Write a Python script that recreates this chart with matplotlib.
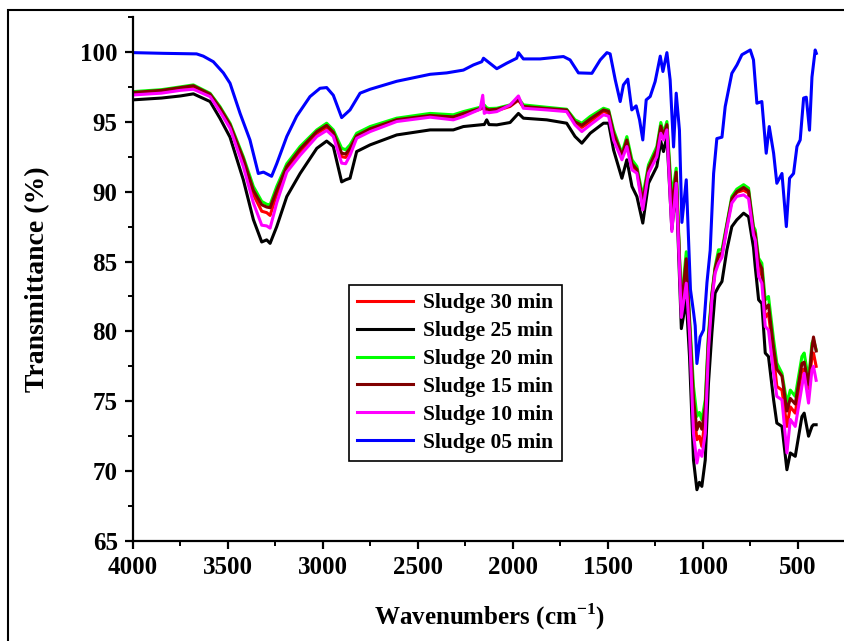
import matplotlib
matplotlib.use("Agg")
import matplotlib.pyplot as plt
from matplotlib.patches import Rectangle
from matplotlib.ticker import MultipleLocator

plt.rcParams['font.family'] = ['Liberation Serif', 'DejaVu Serif']
plt.rcParams['font.weight'] = 'bold'
plt.rcParams['mathtext.fontset'] = 'custom'
plt.rcParams['mathtext.rm'] = 'Liberation Serif:bold'
plt.rcParams['mathtext.bf'] = 'Liberation Serif:bold'

# wavenumber grid shared by the five close spectra
wn = [4000, 3850, 3750, 3682, 3594, 3542, 3489, 3419, 3366, 3322, 3296, 3278,
      3243, 3190, 3120, 3032, 2980, 2945, 2901, 2880, 2857, 2822, 2751, 2611,
      2435, 2313, 2260, 2172, 2158, 2150, 2137, 2125, 2084, 2014, 1970, 1944,
      1821, 1716, 1672, 1636, 1592, 1522, 1495, 1469, 1425, 1399, 1372, 1346,
      1315, 1285, 1241, 1220, 1206, 1188, 1162, 1139, 1112, 1086, 1069, 1048,
      1030, 1017, 1004, 986, 969, 951, 934, 916, 898, 872, 846, 820, 784, 758,
      732, 723, 705, 688, 670, 653, 626, 609, 582, 556, 538, 512, 477, 465,
      442, 424, 416, 402]

sludge_20 = [97.16, 97.3, 97.5, 97.64, 97.04, 96.09, 94.9, 92.5, 90.37, 89.3, 89.1, 89.06,
             90.37, 92.0, 93.23, 94.42, 94.9, 94.42, 93.11, 93.0, 93.35, 94.18, 94.66, 95.26,
             95.6, 95.5, 95.73, 96.04, 96.1, 96.2, 96.0, 95.95, 95.97, 96.21, 96.69, 96.21,
             96.04, 95.9, 95.14, 94.9, 95.38, 95.97, 95.85, 94.42, 92.75, 93.94, 92.28, 91.8,
             89.65, 91.92, 93.23, 94.95, 94.18, 95.02, 89.65, 91.68, 82.0, 85.7, 81.07, 76.06,
             73.92, 74.2, 73.68, 75.1, 79.9, 82.74, 84.64, 85.84, 85.84, 87.74, 89.66, 90.18, 90.5, 90.25,
             87.5, 87.27, 85.24, 84.88, 82.26, 82.5, 79.4, 77.73, 77.0, 74.87, 75.8, 75.35, 78.2, 78.45,
             76.54, 79.16, 79.4, 78.7]
sludge_15 = [97.1, 97.25, 97.45, 97.58, 96.98, 96.0, 94.8, 92.35, 90.1, 89.06, 88.9, 88.85,
             90.1, 91.8, 93.05, 94.3, 94.75, 94.25, 92.75, 92.7, 93.1, 94.0, 94.5, 95.15,
             95.45, 95.35, 95.6, 95.95, 96.0, 96.0, 95.9, 95.85, 95.9, 96.15, 96.6, 96.1,
             95.95, 95.85, 95.0, 94.75, 95.2, 95.85, 95.75, 94.2, 92.6, 93.7, 92.0, 91.6,
             89.3, 91.7, 93.0, 94.7, 94.0, 94.8, 88.8, 91.4, 81.7, 85.2, 80.7, 75.2,
             72.96, 73.5, 73.0, 74.6, 79.5, 82.6, 84.5, 85.5, 85.6, 87.6, 89.5, 90.0, 90.3, 90.05,
             87.3, 87.0, 85.0, 84.5, 81.6, 81.9, 78.8, 77.3, 76.8, 74.3, 75.2, 74.8, 77.7, 77.8,
             76.2, 78.8, 79.6, 78.6]
sludge_30 = [97.05, 97.2, 97.4, 97.5, 96.9, 95.9, 94.7, 92.2, 89.8, 88.6, 88.5, 88.3,
             89.8, 91.6, 92.85, 94.15, 94.6, 94.1, 92.5, 92.45, 92.9, 93.9, 94.4, 95.1,
             95.4, 95.25, 95.5, 95.9, 96.0, 95.9, 95.8, 95.75, 95.8, 96.1, 96.55, 96.05,
             95.9, 95.8, 94.9, 94.6, 95.0, 95.75, 95.6, 94.0, 92.5, 93.5, 91.8, 91.5,
             89.0, 91.5, 92.8, 94.5, 93.9, 94.7, 88.2, 91.2, 81.5, 84.64, 80.4, 74.5,
             72.25, 72.5, 71.77, 73.9, 79.2, 82.5, 84.4, 85.3, 85.5, 87.55, 89.4, 89.95, 90.1, 89.9,
             87.1, 86.8, 84.64, 84.0, 81.0, 81.3, 78.2, 76.06, 75.8, 73.2, 74.6, 74.15, 77.25, 77.3,
             75.9, 78.2, 78.45, 77.5]
sludge_10 = [96.92, 97.05, 97.25, 97.33, 96.8, 95.73, 94.54, 91.8, 89.2, 87.6, 87.55, 87.39,
             89.2, 91.4, 92.6, 93.94, 94.38, 93.95, 92.04, 92.0, 92.6, 93.82, 94.3, 95.02,
             95.33, 95.14, 95.38, 95.9, 96.9, 95.6, 95.7, 95.65, 95.73, 96.2, 96.85, 95.97,
             95.85, 95.73, 94.78, 94.3, 94.78, 95.5, 95.4, 93.7, 92.28, 93.23, 91.56, 91.32,
             88.7, 91.32, 92.5, 94.18, 93.7, 94.42, 87.15, 90.6, 81.0, 83.45, 79.9, 72.7,
             70.58, 71.5, 71.06, 72.7, 78.7, 82.26, 84.17, 84.88, 85.3, 87.39, 89.18, 89.66, 89.77, 89.5,
             86.9, 86.55, 83.93, 83.45, 80.35, 80.1, 77.0, 75.35, 75.1, 71.3, 73.7, 73.2, 76.06, 77.0,
             74.87, 77.25, 77.5, 76.5]
sludge_25 = [96.57, 96.7, 96.85, 97.0, 96.45, 95.25, 93.9, 90.85, 88.0, 86.4, 86.55, 86.3,
             87.5, 89.65, 91.3, 93.1, 93.62, 93.23, 90.7, 90.85, 90.96, 92.87, 93.35, 94.06,
             94.42, 94.42, 94.66, 94.78, 94.8, 94.8, 95.14, 94.8, 94.78, 94.95, 95.6, 95.26,
             95.14, 94.9, 93.95, 93.47, 94.18, 94.9, 94.9, 92.99, 90.96, 92.28, 90.37, 89.65,
             87.75, 90.6, 91.8, 93.59, 92.87, 93.94, 87.3, 90.37, 80.2, 82.26, 78.2, 70.8,
             68.67, 69.2, 68.91, 70.8, 76.3, 79.9, 82.74, 83.2, 83.57, 85.84, 87.5, 87.98, 88.46, 88.2,
             86.0, 84.65, 82.26, 82.0, 78.45, 78.2, 75.1, 73.44, 73.2, 70.1, 71.3, 71.06, 73.9, 74.15,
             72.5, 73.2, 73.32, 73.32]

# the 05 min spectrum has its own read-off grid
wn_05 = [4000, 3840, 3665, 3630, 3577, 3524, 3489, 3436, 3384, 3340, 3313, 3270,
         3243, 3190, 3138, 3068, 3015, 2980, 2945, 2901, 2857, 2804, 2751, 2611,
         2435, 2348, 2260, 2207, 2163, 2154, 2084, 2032, 1979, 1970, 1944, 1856,
         1733, 1698, 1654, 1583, 1539, 1504, 1487, 1460, 1434, 1417, 1394, 1373,
         1350, 1332, 1315, 1297, 1276, 1250, 1223, 1209, 1188, 1171, 1153, 1139,
         1122, 1109, 1086, 1064, 1047, 1039, 1030, 1013, 995, 977, 960, 942,
         925, 898, 881, 846, 819, 793, 749, 732, 714, 688, 665, 649,
         626, 609, 582, 559, 542, 521, 503, 486, 468, 454, 437, 424, 407, 401]
sludge_05 = [99.95, 99.9, 99.86, 99.7, 99.3, 98.5, 97.76, 95.6, 93.7, 91.3, 91.4, 91.1,
             92.0, 93.95, 95.4, 96.8, 97.4, 97.45, 96.9, 95.3, 95.85, 97.05, 97.33, 97.9,
             98.4, 98.5, 98.7, 99.07, 99.3, 99.55, 98.8, 99.19, 99.55, 99.95, 99.5, 99.5,
             99.67, 99.43, 98.5, 98.47, 99.43, 99.95, 99.86, 98.0, 96.45, 97.64, 98.05, 95.85,
             96.14, 95.14, 93.7, 96.57, 96.81, 97.88, 99.7, 98.6, 99.95, 98.0, 93.2, 97.05,
             94.4, 87.8, 90.85, 83.0, 81.3, 80.4, 77.7, 79.6, 80.1, 83.5, 85.8, 91.3,
             93.8, 93.9, 96.09, 98.47, 99.07, 99.8, 100.14, 99.43, 96.33, 96.45, 92.75, 94.66,
             92.75, 90.6, 91.3, 87.5, 90.96, 91.3, 93.23, 93.7, 96.7, 96.76, 94.4, 98.2, 100.14, 99.9]

series = [
    ("Sludge 30 min", wn, sludge_30, "#ff0000"),
    ("Sludge 25 min", wn, sludge_25, "#000000"),
    ("Sludge 20 min", wn, sludge_20, "#00ff00"),
    ("Sludge 15 min", wn, sludge_15, "#800000"),
    ("Sludge 10 min", wn, sludge_10, "#ff00ff"),
    ("Sludge 05 min", wn_05, sludge_05, "#0000ff"),
]

fig = plt.figure(figsize=(8.45, 6.41), dpi=100)
ax = fig.add_axes([133 / 845, 100 / 641, 712 / 845, 524 / 641])

for label, x, y, color in series:
    ax.plot(x, y, color=color, lw=2.2, label=label)

ax.set_xlim(4000, 250)
ax.set_ylim(65, 102.5)
ax.xaxis.set_major_locator(MultipleLocator(500))
ax.xaxis.set_minor_locator(MultipleLocator(250))
ax.yaxis.set_major_locator(MultipleLocator(5))
ax.yaxis.set_minor_locator(MultipleLocator(2.5))

for side in ("top", "right"):
    ax.spines[side].set_visible(False)
for side in ("left", "bottom"):
    ax.spines[side].set_linewidth(1.6)

ax.tick_params(which="major", direction="out", length=6, width=1.6, labelsize=18, pad=5)
ax.tick_params(which="minor", direction="out", length=3.5, width=1.4)
for t in ax.get_xticklabels() + ax.get_yticklabels():
    t.set_fontweight("bold")

ax.set_xlabel("Wavenumbers (cm$^{-1}$)", fontsize=18, fontweight="bold", labelpad=16)
ax.set_ylabel("Transmittance (%)", fontsize=20, fontweight="bold", labelpad=22)

leg = ax.legend(loc="upper left", bbox_to_anchor=(0.303, 0.489), borderaxespad=0,
                fancybox=False, edgecolor="black", framealpha=1,
                prop={"family": "Liberation Serif", "weight": "bold", "size": 15.5},
                handlelength=2.6, labelspacing=0.36, borderpad=0.4, handletextpad=0.45)
leg.get_frame().set_linewidth(1.2)

# outer frame around the whole picture
fig.patches.append(Rectangle((8 / 845, -0.1), 1.5, 1 - 10 / 641 + 0.1,
                             transform=fig.transFigure, fill=False,
                             edgecolor="black", lw=1.5))

fig.savefig("out.png", dpi=100)
